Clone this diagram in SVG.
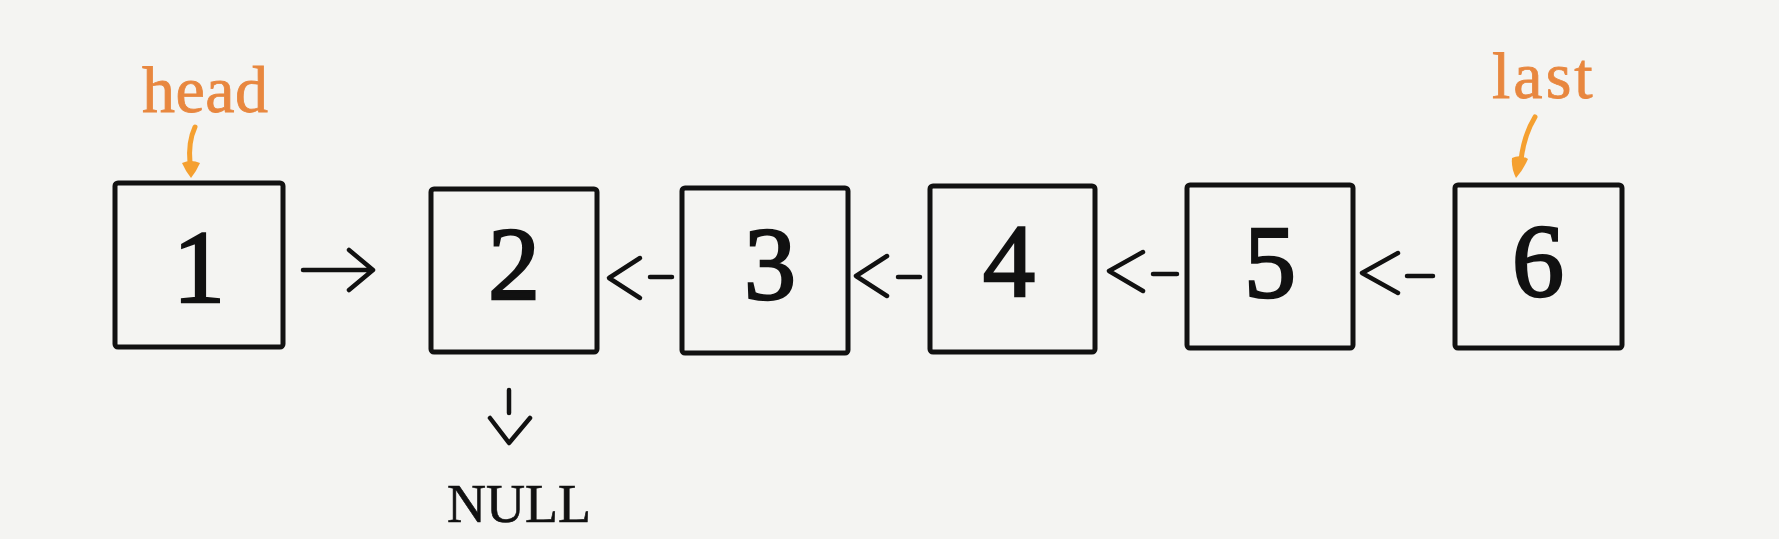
<svg xmlns="http://www.w3.org/2000/svg" width="1779" height="539" viewBox="0 0 1779 539">
  <style>
    .box { fill: none; stroke: #111; stroke-width: 5; }
    .digit { font-family: "Liberation Serif", "DejaVu Serif", serif; font-size: 104px; font-weight: normal; fill: #111; stroke: #111; stroke-width: 2.5; text-anchor: middle; }
    .conn { fill: none; stroke: #111; stroke-width: 4.5; stroke-linecap: round; stroke-linejoin: round; }
    .label { font-family: "Liberation Serif", "DejaVu Serif", serif; font-size: 66px; fill: #E8873F; stroke: #E8873F; stroke-width: 0.8; }
    .ptr { fill: none; stroke: #F5A030; stroke-width: 5; stroke-linecap: round; }
    .ptrhead { fill: #F5A030; }
    .null { font-family: "Liberation Serif", "DejaVu Serif", serif; font-size: 54px; fill: #111; stroke: #111; stroke-width: 0.6; text-anchor: middle; }
  </style>
  <rect x="0" y="0" width="1779" height="539" fill="#f4f4f2"/>

  <g id="node1">
    <rect class="box" x="115" y="183" width="168" height="164" rx="3"/>
    <text class="digit" x="199" y="302">1</text>
  </g>
  <g id="node2">
    <rect class="box" x="431" y="189" width="166" height="163" rx="3"/>
    <text class="digit" x="514" y="299">2</text>
  </g>
  <g id="node3">
    <rect class="box" x="682" y="188" width="166" height="165" rx="3"/>
    <text class="digit" x="770" y="299">3</text>
  </g>
  <g id="node4">
    <rect class="box" x="930" y="186" width="165" height="166" rx="3"/>
    <text class="digit" x="1009" y="296">4</text>
  </g>
  <g id="node5">
    <rect class="box" x="1187" y="185" width="166" height="163" rx="3"/>
    <text class="digit" x="1270" y="297">5</text>
  </g>
  <g id="node6">
    <rect class="box" x="1455" y="185" width="167" height="163" rx="3"/>
    <text class="digit" x="1538" y="296">6</text>
  </g>

  <g id="head-label">
    <text class="label" x="142" y="112" letter-spacing="0.5">head</text>
    <path class="ptr" d="M195,127 Q188,142 190,163"/>
    <path class="ptrhead" d="M182,163 Q191,159 200,163 Q196,172 191,178 Q186,172 182,163 Z"/>
  </g>
  <g id="last-label">
    <text class="label" x="1492" y="98" letter-spacing="3">last</text>
    <path class="ptr" d="M1535,117 Q1524,135 1521,160"/>
    <path class="ptrhead" d="M1512,158 Q1520,154 1528,159 Q1523,170 1516,178 Q1511,168 1512,158 Z"/>
  </g>

  <g id="null-node">
    <text class="null" x="519" y="522">NULL</text>
  </g>

  <g id="connectors">
    <path class="conn" d="M303,270 L368,270 M349,250 L373,270 L349,290"/>
    <path class="conn" d="M640,258 L609,278 L640,298 M650,277 L672,277"/>
    <path class="conn" d="M887,256 L856,276 L887,296 M898,277 L920,277"/>
    <path class="conn" d="M1143,252 L1109,271 L1143,291 M1153,274 L1177,274"/>
    <path class="conn" d="M1398,253 L1362,273 L1398,293 M1407,276 L1433,276"/>
    <path class="conn" d="M509,390 L509,413 M490,418 L509,443 L530,418"/>
  </g>
</svg>
